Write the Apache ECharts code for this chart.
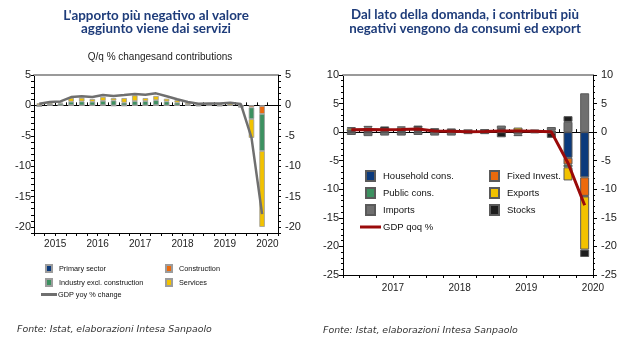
<!DOCTYPE html>
<html><head><meta charset="utf-8">
<script src="https://cdn.jsdelivr.net/npm/echarts@6/dist/echarts.min.js"></script>
<style>html,body{margin:0;padding:0;background:#fff}#c{width:633px;height:363px}</style>
</head><body><div id="c"></div>
<script>
// ---- Left chart data (quarters 2015Q1 .. 2020Q3) ----
const leftCats = ['2015 Q1','2015 Q2','2015 Q3','2015 Q4','2016 Q1','2016 Q2','2016 Q3','2016 Q4','2017 Q1','2017 Q2','2017 Q3','2017 Q4','2018 Q1','2018 Q2','2018 Q3','2018 Q4','2019 Q1','2019 Q2','2019 Q3','2019 Q4','2020 Q1','2020 Q2','2020 Q3'];
const primarySector = [-0.15,0.05,0,0,0,0,0.05,-0.05,-0.05,0,0,0,0,0,0,0,-0.05,0,0,-0.05,-0.05,-0.1,null];
const construction  = [0,0,0,0.05,0,0,0,0,0,0,0,0.05,0,0,0,0,0.05,-0.05,0,0,-0.3,-1.3,null];
const industryExcl  = [0.05,0.2,0.3,0.55,0.65,0.6,0.7,0.8,0.45,0.7,0.7,0.8,0.65,0.45,0.15,-0.15,0.05,-0.05,0,-0.2,-1.9,-6.1,null];
const services      = [0.3,0.3,0.15,0.65,0.6,0.45,0.65,0.4,0.75,0.95,0.5,0.7,0.45,0.4,0.25,0.1,0.1,0.2,0.3,-0.05,-3.1,-12.5,null];
const gdpYoy        = [0.27,0.55,0.65,1.37,1.5,1.37,1.7,1.55,1.7,1.87,1.76,1.98,1.5,1.0,0.55,0.27,0.33,0.33,0.44,0.22,-5.3,-17.9,null];
const leftYTicks = [-20,-15,-10,-5,0,5];

// ---- Right chart data (quarters 2016Q4 .. 2020Q2) ----
const rightCats = ['2016 Q4','2017 Q1','2017 Q2','2017 Q3','2017 Q4','2018 Q1','2018 Q2','2018 Q3','2018 Q4','2019 Q1','2019 Q2','2019 Q3','2019 Q4','2020 Q1','2020 Q2'];
const householdCons = [0.2,0.3,0.2,0.2,0.2,0.1,0.1,0.05,0.1,0.1,0.1,0.1,-0.1,-4.5,-7.9];
const fixedInvest   = [0.1,0.0,0.1,0.1,0.2,0.1,0.1,0.0,0.1,0.2,0.2,0.1,0.1,-1.15,-3.25];
const publicCons    = [0,0,0,0,0,0,0,0,0,0,0,0,0,-0.5,-0.1];
const exportsC      = [0.4,0.5,0.2,0.5,0.3,0.1,0.1,0.3,0.2,0.25,0.5,0.1,0.2,-2.3,-9.3];
const importsC      = [-0.5,-0.7,-0.6,-0.6,-0.5,-0.6,-0.6,-0.35,0.1,0.6,-0.4,-0.2,0.6,1.8,6.8];
const stocks        = [0.2,0.3,0.5,0.2,0.45,0.4,0.35,0.05,-0.35,-0.9,-0.3,0.1,-0.9,1.0,-1.3];
const gdpQoq        = [0.4,0.45,0.4,0.45,0.55,0.2,0.15,0.05,0.1,0.2,0.2,0.15,0.05,-5.4,-12.8];

const NARROW = '"Liberation Sans", Arial, sans-serif';
const TITLE_FONT = 'Lato, "Open Sans", sans-serif';
const FOOT_FONT = '"DejaVu Sans", sans-serif';

const C = {navy:'#0b3a7c', green:'#3c9160', orange:'#ec6a0c', yellow:'#f2c200', gray:'#6f6f6f', black:'#1e1e1e', red:'#9a0a0a'};

function yearLabel(v){ return v.slice(5)==='Q2' ? v.slice(0,4) : ''; }

const chart = echarts.init(document.getElementById('c'), null, {renderer:'canvas'});

const tickLab = {fontFamily: NARROW, fontSize: 10, color:'#222'};

function bottomX(grid, cats, margin){
  return {type:'category', gridIndex:grid, data:cats, position:'bottom', boundaryGap:true,
    axisLine:{onZero:false, lineStyle:{color:'#000', width:1}},
    axisTick:{show:true, interval:0, length:3, lineStyle:{color:'#000'}},
    axisLabel:Object.assign({interval:0, formatter:yearLabel, margin:margin, padding:[0,0,0,cats===leftCats?10.6:16.6]}, tickLab, {fontSize:10}),
    splitLine:{show:false}};
}
function zeroX(grid, cats, yIdx){
  return {type:'category', gridIndex:grid, data:cats, boundaryGap:true,
    axisLine:{onZero:true, onZeroAxisIndex:yIdx, lineStyle:{color:'#000', width:1}},
    axisTick:{show:true, interval:0, length:3, lineStyle:{color:'#000'}},
    axisLabel:{show:false}, splitLine:{show:false}};
}
function topX(grid, cats){
  return {type:'category', gridIndex:grid, data:cats, position:'top',
    axisLine:{onZero:false, lineStyle:{color:'#9a9a9a', width:2}},
    axisTick:{show:false}, axisLabel:{show:false}, splitLine:{show:false}};
}

const barBorderL = {borderColor:'#9c9c9c', borderWidth:0.8};
const barBorderR = {borderColor:'#5a5a5a', borderWidth:1};

const option = {
  animation:false,
  backgroundColor:'#fff',
  grid:[
    {left:34, top:75, width:244, height:158},
    {left:343, top:75, width:250, height:200}
  ],
  xAxis:[
    bottomX(0, leftCats, 6),
    zeroX(0, leftCats, 0),
    topX(0, leftCats),
    bottomX(1, rightCats, 8),
    zeroX(1, rightCats, 2),
    topX(1, rightCats)
  ],
  yAxis:[
    {type:'value', gridIndex:0, min:-21, max:5, interval:1, position:'left',
      axisLine:{show:true, lineStyle:{color:'#000'}}, axisTick:{show:true, length:3, lineStyle:{color:'#000'}},
      axisLabel:Object.assign({margin:3, formatter:v=>leftYTicks.indexOf(v)>=0?String(v):''}, tickLab, {fontSize:11}), splitLine:{show:false}},
    {type:'value', gridIndex:0, min:-21, max:5, interval:1, position:'right',
      axisLine:{show:true, lineStyle:{color:'#000'}}, axisTick:{show:true, length:3, lineStyle:{color:'#000'}},
      axisLabel:Object.assign({margin:7, formatter:v=>leftYTicks.indexOf(v)>=0?String(v):''}, tickLab, {fontSize:11}), splitLine:{show:false}},
    {type:'value', gridIndex:1, min:-25, max:10, interval:5, position:'left',
      axisLine:{show:true, lineStyle:{color:'#000'}}, axisTick:{show:true, length:4, lineStyle:{color:'#000'}},
      minorTick:{show:true, splitNumber:5, length:2, lineStyle:{color:'#000'}},
      axisLabel:Object.assign({margin:4}, tickLab, {fontSize:11}), splitLine:{show:false}},
    {type:'value', gridIndex:1, min:-25, max:10, interval:5, position:'right',
      axisLine:{show:true, lineStyle:{color:'#000'}}, axisTick:{show:true, length:4, lineStyle:{color:'#000'}},
      minorTick:{show:true, splitNumber:5, length:2, lineStyle:{color:'#000'}},
      axisLabel:Object.assign({margin:8}, tickLab, {fontSize:11}), splitLine:{show:false}}
  ],
  legend:[
    {left:40, top:259, orient:'vertical', itemGap:5, itemWidth:6, itemHeight:7, icon:'rect',
      textStyle:{fontFamily:NARROW, fontSize:7.3, color:'#111', padding:[0,0,0,2]},
      data:['Primary sector','Industry excl. construction']},
    {left:160, top:259, orient:'vertical', itemGap:5, itemWidth:6, itemHeight:7, icon:'rect',
      textStyle:{fontFamily:NARROW, fontSize:7.3, color:'#111', padding:[0,0,0,2]},
      data:['Construction','Services']},
    {left:36, top:286, itemWidth:16, itemHeight:3, icon:'rect',
      textStyle:{fontFamily:NARROW, fontSize:7.3, color:'#111', padding:[0,0,0,-4]},
      data:['GDP yoy % change']},
    {left:360, top:165, orient:'vertical', itemGap:5, itemWidth:9, itemHeight:10, icon:'rect',
      textStyle:{fontFamily:NARROW, fontSize:9.5, color:'#111', padding:[0,0,0,3]},
      data:['Household cons.','Public cons.','Imports']},
    {left:484, top:165, orient:'vertical', itemGap:5, itemWidth:9, itemHeight:10, icon:'rect',
      textStyle:{fontFamily:NARROW, fontSize:9.5, color:'#111', padding:[0,0,0,3]},
      data:['Fixed Invest.','Exports','Stocks']},
    {left:355, top:217, itemWidth:21, itemHeight:3, icon:'rect',
      textStyle:{fontFamily:NARROW, fontSize:9.5, color:'#111', padding:[0,0,0,-3]},
      data:['GDP qoq %']}
  ],
  graphic:[
    {type:'text', x:156, y:9, style:{text:"L'apporto più negativo al valore\naggiunto viene dai servizi", textAlign:'center', font:'bold 13.4px '+TITLE_FONT, lineHeight:13, fill:'#1e3c7a'}},
    {type:'text', x:465, y:8, style:{text:"Dal lato della domanda, i contributi più\nnegativi vengono da consumi ed export", textAlign:'center', font:'bold 13.3px '+TITLE_FONT, lineHeight:14, fill:'#1e3c7a'}},
    {type:'text', x:160, y:52, style:{text:"Q/q % changesand contributions", textAlign:'center', font:'10px '+NARROW, fill:'#222'}},
    {type:'text', x:17, y:325, style:{text:"Fonte: Istat, elaborazioni Intesa Sanpaolo", font:'italic 9.4px '+FOOT_FONT, fill:'#333'}},
    {type:'text', x:323, y:326, style:{text:"Fonte: Istat, elaborazioni Intesa Sanpaolo", font:'italic 9.4px '+FOOT_FONT, fill:'#333'}}
  ],
  series:[
    {name:'Primary sector', type:'bar', xAxisIndex:0, yAxisIndex:0, stack:'L', barWidth:5.5, data:primarySector, itemStyle:Object.assign({color:C.navy}, barBorderL)},
    {name:'Construction', type:'bar', xAxisIndex:0, yAxisIndex:0, stack:'L', barWidth:5.5, data:construction, itemStyle:Object.assign({color:C.orange}, barBorderL)},
    {name:'Industry excl. construction', type:'bar', xAxisIndex:0, yAxisIndex:0, stack:'L', barWidth:5.5, data:industryExcl, itemStyle:Object.assign({color:C.green}, barBorderL)},
    {name:'Services', type:'bar', xAxisIndex:0, yAxisIndex:0, stack:'L', barWidth:5.5, data:services, itemStyle:Object.assign({color:C.yellow}, barBorderL)},
    {name:'GDP yoy % change', type:'line', xAxisIndex:0, yAxisIndex:0, data:gdpYoy, showSymbol:false, z:5,
      lineStyle:{color:C.gray, width:2.5}, itemStyle:{color:C.gray}},

    {name:'Household cons.', type:'bar', xAxisIndex:3, yAxisIndex:2, stack:'R', barWidth:9, data:householdCons, itemStyle:Object.assign({color:C.navy}, barBorderR)},
    {name:'Fixed Invest.', type:'bar', xAxisIndex:3, yAxisIndex:2, stack:'R', barWidth:9, data:fixedInvest, itemStyle:Object.assign({color:C.orange}, barBorderR)},
    {name:'Public cons.', type:'bar', xAxisIndex:3, yAxisIndex:2, stack:'R', barWidth:9, data:publicCons, itemStyle:Object.assign({color:C.green}, barBorderR)},
    {name:'Exports', type:'bar', xAxisIndex:3, yAxisIndex:2, stack:'R', barWidth:9, data:exportsC, itemStyle:Object.assign({color:C.yellow}, barBorderR)},
    {name:'Imports', type:'bar', xAxisIndex:3, yAxisIndex:2, stack:'R', barWidth:9, data:importsC, itemStyle:Object.assign({color:C.gray}, barBorderR)},
    {name:'Stocks', type:'bar', xAxisIndex:3, yAxisIndex:2, stack:'R', barWidth:9, data:stocks, itemStyle:Object.assign({color:C.black}, barBorderR)},
    {name:'GDP qoq %', type:'line', xAxisIndex:3, yAxisIndex:2, data:gdpQoq, showSymbol:false, z:5,
      lineStyle:{color:C.red, width:3}, itemStyle:{color:C.red}}
  ]
};
chart.setOption(option);
</script></body></html>
